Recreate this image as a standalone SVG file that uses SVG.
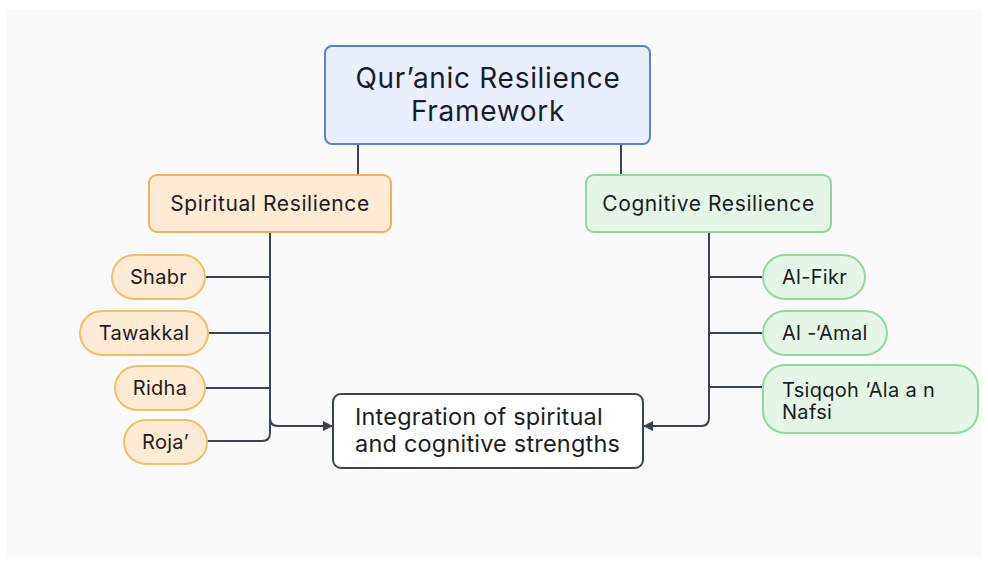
<svg xmlns="http://www.w3.org/2000/svg" width="988" height="566" viewBox="0 0 988 566">
  <defs>
    <marker id="arrow" viewBox="0 0 10 10" refX="9" refY="5" markerWidth="10" markerHeight="10" markerUnits="userSpaceOnUse" orient="auto">
      <path d="M0,0 L10,5 L0,10 z" fill="#3a4452"/>
    </marker>
    <style>
      text { font-family: Inter, "Liberation Sans", Arial, sans-serif; fill: #1a1d22; }
      .root rect { fill: #e9effd; stroke: #5d80d3; stroke-width: 2; }
      .spirit rect { fill: #fdebd6; stroke: #f1b061; stroke-width: 2; }
      .cogn rect { fill: #e5f5e7; stroke: #93d39f; stroke-width: 2; }
      .pill-s rect { fill: #fdebd6; stroke: #f0c068; stroke-width: 2; }
      .pill-c rect { fill: #e5f5e7; stroke: #98d5a2; stroke-width: 2; }
      .result rect { fill: #ffffff; stroke: #3a4452; stroke-width: 2; }
      .links path { fill: none; stroke: #3a4452; stroke-width: 2; }
      .title { font-size: 28px; letter-spacing: 0.7px; text-anchor: middle; }
      .head { font-size: 21px; letter-spacing: 0.6px; text-anchor: middle; }
      .leaf { font-size: 20px; letter-spacing: 0.3px; text-anchor: middle; }
      .leaf-l { font-size: 20px; letter-spacing: 0.3px; }
      .body { font-size: 23.5px; letter-spacing: 0.2px; }
    </style>
  </defs>

  <rect x="0" y="0" width="988" height="566" fill="#ffffff"/>
  <rect x="7" y="9" width="975" height="548" fill="#fafafb"/>

  <!-- connectors -->
  <g class="links">
    <path d="M358,145 V175"/>
    <path d="M621,145 V175"/>
    <!-- spiritual trunk and branches -->
    <path d="M270,232 V433 Q270,441 262,441 H207"/>
    <path d="M205,277 H270"/>
    <path d="M208,333 H270"/>
    <path d="M205,388 H270"/>
    <path d="M270,418 Q270,426 278,426 H332" marker-end="url(#arrow)"/>
    <!-- cognitive trunk and branches -->
    <path d="M709,232 V418 Q709,426 701,426 H644" marker-end="url(#arrow)"/>
    <path d="M709,277 H763"/>
    <path d="M709,333 H763"/>
    <path d="M709,387 H763"/>
  </g>

  <g id="root" class="root">
    <rect x="325" y="46" width="325" height="98" rx="7"/>
    <text class="title" x="488" y="88">Qur’anic Resilience</text>
    <text class="title" x="488" y="121">Framework</text>
  </g>

  <g id="spiritual" class="spirit">
    <rect x="149" y="175" width="242" height="57" rx="8"/>
    <text class="head" x="270" y="211">Spiritual Resilience</text>
  </g>

  <g id="cognitive" class="cogn">
    <rect x="586" y="175" width="245" height="57" rx="8"/>
    <text class="head" x="708.5" y="211">Cognitive Resilience</text>
  </g>

  <g id="shabr" class="pill-s">
    <rect x="112" y="255" width="93" height="44" rx="22"/>
    <text class="leaf" x="158.5" y="284">Shabr</text>
  </g>
  <g id="tawakkal" class="pill-s">
    <rect x="80" y="311" width="128" height="44" rx="22"/>
    <text class="leaf" x="144" y="340">Tawakkal</text>
  </g>
  <g id="ridha" class="pill-s">
    <rect x="115" y="366" width="90" height="44" rx="22"/>
    <text class="leaf" x="160" y="395">Ridha</text>
  </g>
  <g id="roja" class="pill-s">
    <rect x="124" y="420" width="83" height="44" rx="22"/>
    <text class="leaf" x="165.5" y="449">Roja’</text>
  </g>

  <g id="al-fikr" class="pill-c">
    <rect x="763" y="255" width="102" height="44" rx="22"/>
    <text class="leaf-l" x="782" y="284">Al-Fikr</text>
  </g>
  <g id="al-amal" class="pill-c">
    <rect x="763" y="311" width="124" height="44" rx="22"/>
    <text class="leaf-l" x="782" y="340">Al -‘Amal</text>
  </g>
  <g id="tsiqqoh" class="pill-c">
    <rect x="763" y="365" width="215" height="68" rx="22"/>
    <text class="leaf-l" x="782" y="397">Tsiqqoh ‘Ala a n</text>
    <text class="leaf-l" x="782" y="419">Nafsi</text>
  </g>

  <g id="integration" class="result">
    <rect x="333" y="394" width="310" height="74" rx="8"/>
    <text class="body" x="355" y="425">Integration of spiritual</text>
    <text class="body" x="355" y="452">and cognitive strengths</text>
  </g>
</svg>
